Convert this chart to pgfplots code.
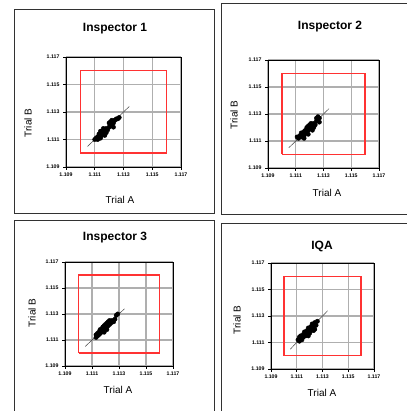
\documentclass[border=0pt]{standalone}
\usepackage{pgfplots}
\pgfplotsset{compat=1.18}
\usepackage{fontspec}
\setmainfont{Liberation Sans}
\definecolor{gridc}{RGB}{175,175,175}
\definecolor{boxred}{RGB}{255,50,50}
\definecolor{panelframe}{RGB}{50,50,50}
\pgfplotsset{
  msa/.style={
    scale only axis,
    anchor=south west,
    xmin=1.109, xmax=1.117, ymin=1.109, ymax=1.117,
    xtick={1.109,1.111,1.113,1.115,1.117},
    ytick={1.109,1.111,1.113,1.115,1.117},
    xticklabels={1.109,1.111,1.113,1.115,1.117},
    yticklabels={1.109,1.111,1.113,1.115,1.117},
    tick align=outside, major tick length=3pt,
    tick style={black, line width=0.6pt},
    xtick pos=bottom, ytick pos=left,
    ticklabel style={font=\fontsize{5.2}{6}\selectfont\bfseries},
    xticklabel style={yshift=1pt},
    grid=major, major grid style={gridc, line width=1.2pt},
    axis line style={black, line width=0.9pt},
    clip=false,
  },
  pts/.style={only marks, mark=*, mark size=2.2pt, mark options={fill=black, draw=black}},
  diag/.style={black!75, line width=0.5pt, no marks},
  rbox/.style={draw=boxred, line width=1.5pt, no marks, mark=none},
}
\begin{document}
\begin{tikzpicture}[x=1pt,y=1pt]
\useasboundingbox (0,0) rectangle (406,411);
% panel frames
\draw[panelframe, line width=0.9pt] (14,198) rectangle (214,402);
\draw[panelframe, line width=0.9pt] (221,197) rectangle (420,408);
\draw[panelframe, line width=0.9pt] (14,-5) rectangle (214,191);
\draw[panelframe, line width=0.9pt] (221,-5) rectangle (420,188);

% ---------- Inspector 1
\begin{axis}[msa, at={(66pt,244pt)}, width=115pt, height=110pt]
\addplot[rbox] coordinates {(1.110,1.110) (1.116,1.110) (1.116,1.116) (1.110,1.116) (1.110,1.110)};
\addplot[diag] coordinates {(1.1105,1.1105) (1.1134,1.1134)};
\addplot[pts] coordinates {
(1.1110,1.1110) (1.1111,1.1111) (1.1112,1.1110) (1.1112,1.1112) (1.1113,1.1111)
(1.1113,1.1114) (1.1114,1.1113) (1.1114,1.1116) (1.1115,1.1113) (1.1115,1.1116)
(1.1116,1.1114) (1.1116,1.1118) (1.1117,1.1116) (1.1118,1.1115) (1.1118,1.1118)
(1.1119,1.1117) (1.1120,1.1119) (1.1120,1.1122) (1.1121,1.1120) (1.1121,1.1123)
(1.1122,1.1121) (1.1122,1.1124) (1.1123,1.1122) (1.1123,1.1119) (1.1124,1.1124)
(1.1125,1.1125) (1.1126,1.1125) (1.1127,1.1126) (1.1114,1.1111) (1.1117,1.1113)
};
\end{axis}
\node[font=\fontsize{12}{14}\selectfont\bfseries] at (115,382) {Inspector 1};
\node[font=\fontsize{10}{12}\selectfont] at (120,211) {Trial A};
\node[font=\fontsize{10}{12}\selectfont, rotate=90] at (28,288) {Trial B};

% ---------- Inspector 2
\begin{axis}[msa, at={(268pt,243pt)}, width=111pt, height=108pt]
\addplot[rbox] coordinates {(1.110,1.110) (1.116,1.110) (1.116,1.116) (1.110,1.116) (1.110,1.110)};
\addplot[diag] coordinates {(1.1105,1.1105) (1.1134,1.1134)};
\addplot[pts] coordinates {
(1.1111,1.1113) (1.1112,1.1112) (1.1113,1.1114) (1.1114,1.1113) (1.1114,1.1116)
(1.1115,1.1115) (1.1116,1.1114) (1.1116,1.1117) (1.1117,1.1116) (1.1117,1.1118)
(1.1118,1.1117) (1.1118,1.1120) (1.1119,1.1118) (1.1119,1.1121) (1.1120,1.1119)
(1.1120,1.1122) (1.1121,1.1120) (1.1121,1.1123) (1.1122,1.1121) (1.1122,1.1118)
(1.1123,1.1123) (1.1123,1.1120) (1.1124,1.1122) (1.1125,1.1125) (1.1125,1.1127)
(1.1126,1.1128) (1.1127,1.1127) (1.1127,1.1124) (1.1116,1.1112) (1.1119,1.1115)
};
\end{axis}
\node[font=\fontsize{12}{14}\selectfont\bfseries] at (330,384) {Inspector 2};
\node[font=\fontsize{10}{12}\selectfont] at (327,218) {Trial A};
\node[font=\fontsize{10}{12}\selectfont, rotate=90] at (234,296) {Trial B};

% ---------- Inspector 3
\begin{axis}[msa, at={(65pt,45pt)}, width=108pt, height=104pt]
\addplot[rbox] coordinates {(1.110,1.110) (1.116,1.110) (1.116,1.116) (1.110,1.116) (1.110,1.110)};
\addplot[diag] coordinates {(1.1105,1.1105) (1.1134,1.1134)};
\addplot[pts] coordinates {
(1.1113,1.1112) (1.1113,1.1114) (1.1114,1.1113) (1.1114,1.1115) (1.1115,1.1114)
(1.1115,1.1116) (1.1116,1.1115) (1.1116,1.1118) (1.1117,1.1116) (1.1117,1.1118)
(1.1118,1.1117) (1.1118,1.1120) (1.1119,1.1118) (1.1119,1.1121) (1.1120,1.1119)
(1.1120,1.1122) (1.1121,1.1120) (1.1121,1.1123) (1.1122,1.1121) (1.1122,1.1124)
(1.1123,1.1122) (1.1123,1.1125) (1.1124,1.1123) (1.1125,1.1125) (1.1126,1.1124)
(1.1127,1.1126) (1.1128,1.1129) (1.1129,1.1130) (1.1119,1.1116) (1.1121,1.1118)
};
\end{axis}
\node[font=\fontsize{12}{14}\selectfont\bfseries] at (115,173) {Inspector 3};
\node[font=\fontsize{10}{12}\selectfont] at (118,21) {Trial A};
\node[font=\fontsize{10}{12}\selectfont, rotate=90] at (32,98) {Trial B};

% ---------- IQA
\begin{axis}[msa, at={(271pt,42pt)}, width=103pt, height=106pt]
\addplot[rbox] coordinates {(1.110,1.110) (1.116,1.110) (1.116,1.116) (1.110,1.116) (1.110,1.110)};
\addplot[diag] coordinates {(1.1105,1.1105) (1.1134,1.1134)};
\addplot[pts] coordinates {
(1.1111,1.1112) (1.1112,1.1111) (1.1112,1.1114) (1.1113,1.1113) (1.1113,1.1115)
(1.1114,1.1114) (1.1114,1.1112) (1.1115,1.1116) (1.1115,1.1114) (1.1116,1.1115)
(1.1116,1.1118) (1.1117,1.1117) (1.1117,1.1115) (1.1118,1.1119) (1.1118,1.1117)
(1.1119,1.1118) (1.1119,1.1121) (1.1120,1.1120) (1.1120,1.1117) (1.1121,1.1122)
(1.1121,1.1119) (1.1122,1.1121) (1.1122,1.1124) (1.1123,1.1122) (1.1123,1.1119)
(1.1124,1.1125) (1.1125,1.1123) (1.1126,1.1126) (1.1124,1.1120) (1.1119,1.1115)
};
\end{axis}
\node[font=\fontsize{12}{14}\selectfont\bfseries] at (322,165) {IQA};
\node[font=\fontsize{10}{12}\selectfont] at (322,18) {Trial A};
\node[font=\fontsize{10}{12}\selectfont, rotate=90] at (237,91) {Trial B};
\end{tikzpicture}
\end{document}
